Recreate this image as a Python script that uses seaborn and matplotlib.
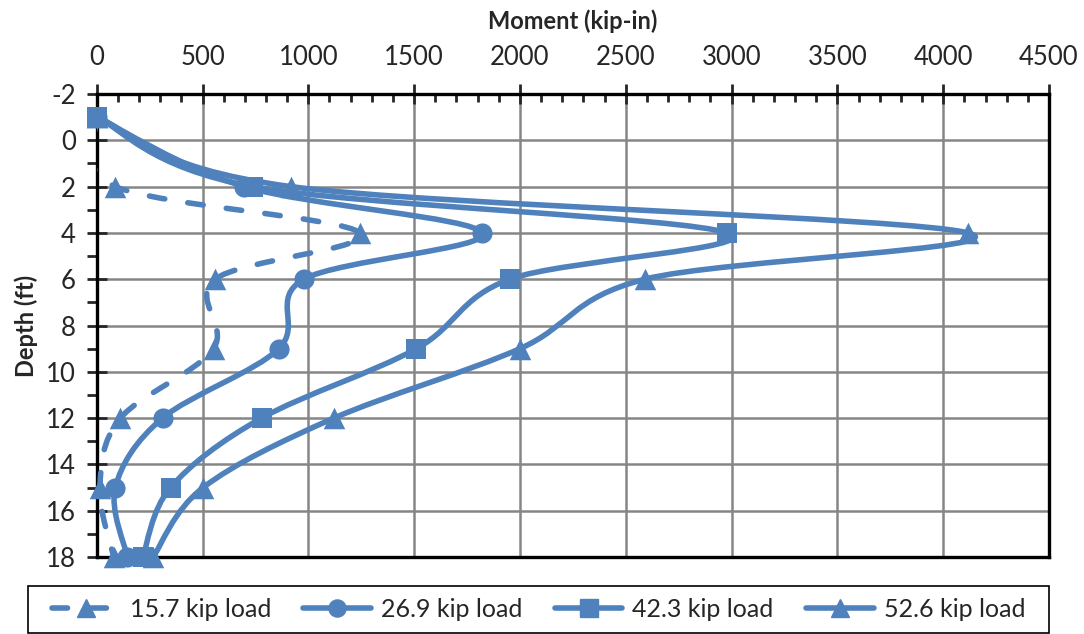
import numpy as np
import pandas as pd
import seaborn as sns
import matplotlib.pyplot as plt
from matplotlib.path import Path
from matplotlib.patches import PathPatch, Rectangle
from matplotlib.lines import Line2D
from matplotlib.ticker import MultipleLocator

depth = [-1, 2, 4, 6, 9, 12, 15, 18]
load_15_7 = [0, 88, 1244, 559, 552, 112, 15, 80]
load_26_9 = [0, 698, 1823, 979, 861, 311, 88, 145]
load_42_3 = [0, 739, 2978, 1952, 1511, 779, 349, 218]
load_52_6 = [0, 918, 4117, 2590, 2000, 1121, 503, 267]
labels = ['15.7 kip load', '26.9 kip load', '42.3 kip load', '52.6 kip load']

BLUE = '#4F81BD'


def smooth_path(xs, ys):
    # Excel-style smoothed line: cubic Bezier through each point
    pts = np.column_stack([xs, ys]).astype(float)
    n = len(pts)
    verts = [pts[0]]
    codes = [Path.MOVETO]
    for i in range(n - 1):
        p0 = pts[i - 1] if i > 0 else pts[i]
        p1, p2 = pts[i], pts[i + 1]
        p3 = pts[i + 2] if i + 2 < n else p2
        verts += [p1 + (p2 - p0) / 6, p2 - (p3 - p1) / 6, p2]
        codes += [Path.CURVE4] * 3
    return Path(verts, codes)


sns.set_style('white')
plt.rcParams['font.family'] = ['Lato', 'DejaVu Sans']
plt.rcParams['axes.unicode_minus'] = False

LW = 4.0
DASH = (0, (2.8, 4.2))
series = [
    (load_15_7, '^', DASH, 15.5),
    (load_26_9, 'o', '-', 14.5),
    (load_42_3, 's', '-', 14.5),
    (load_52_6, '^', '-', 15.5),
]

fig = plt.figure(figsize=(10.84, 6.34), dpi=100)
ax = fig.add_axes([96.7 / 1084, 1 - 557 / 634, (1049 - 96.7) / 1084, (557 - 94) / 634])

handles = []
for (vals, marker, ls, ms), label in zip(series, labels):
    patch = PathPatch(smooth_path(vals, depth), facecolor='none', edgecolor=BLUE,
                      lw=LW, linestyle=ls, capstyle='round', joinstyle='round',
                      zorder=3)
    ax.add_patch(patch)
    df = pd.DataFrame({'moment': vals, 'depth': depth})
    sns.scatterplot(data=df, x='moment', y='depth', ax=ax, marker=marker,
                    s=ms ** 2, color=BLUE, linewidth=0, zorder=4, legend=False,
                    clip_on=False)
    handles.append(Line2D([], [], color=BLUE, lw=LW, linestyle=ls,
                          dash_capstyle='round', solid_capstyle='round',
                          marker=marker, markersize=ms * 0.85, label=label))

ax.set_xlim(0, 4500)
ax.set_ylim(18, -2)
ax.xaxis.set_major_locator(MultipleLocator(500))
ax.xaxis.set_minor_locator(MultipleLocator(100))
ax.yaxis.set_major_locator(MultipleLocator(2))
ax.yaxis.set_minor_locator(MultipleLocator(1))
ax.xaxis.tick_top()
ax.xaxis.set_label_position('top')
ax.grid(True, which='major', color='#868686', lw=1.8)
ax.set_axisbelow(True)

ax.tick_params(axis='x', which='major', direction='inout', length=14, width=2,
               labelsize=18.5, pad=10, top=True, bottom=False)
ax.tick_params(axis='x', which='minor', direction='in', length=6, width=2,
               top=True, bottom=False)
ax.tick_params(axis='y', which='major', direction='inout', length=14, width=2,
               labelsize=18.5, pad=8, left=True)
ax.tick_params(axis='y', which='minor', direction='out', length=7, width=2, left=True)

for s in ax.spines.values():
    s.set_color('black')
    s.set_linewidth(2.4)

ax.set_xlabel('Moment (kip-in)', fontsize=17, fontweight='bold', labelpad=12)
ax.set_ylabel('Depth (ft)', fontsize=17, fontweight='bold', labelpad=6)

# legend box drawn separately so the entries sit centred inside it
fig.patches.append(Rectangle((28 / 1084, 1 - 633 / 634), 1021 / 1084, 47 / 634,
                             transform=fig.transFigure, facecolor='white',
                             edgecolor='black', lw=1.2))
fig.legend(handles=handles, loc='center', ncol=4,
           bbox_to_anchor=(538.5 / 1084, 1 - 609.5 / 634),
           fontsize=18, frameon=False, handlelength=2.7,
           handletextpad=0.4, columnspacing=1.3, borderaxespad=0)

fig.savefig('out.png', dpi=100)
